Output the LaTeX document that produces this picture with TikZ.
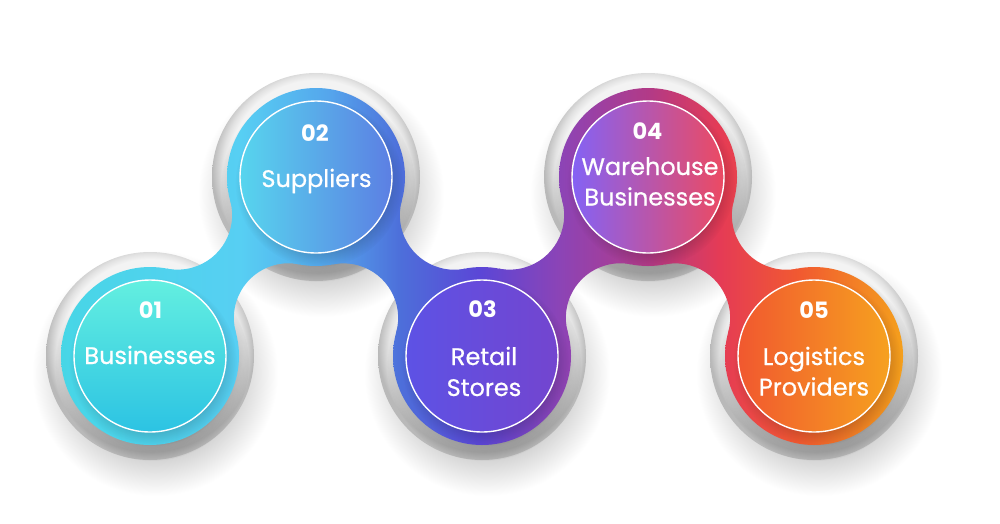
\documentclass[tikz,border=0pt]{standalone}
\usepackage{fontspec}
\setmainfont{Poppins}
\newfontfamily\labfont{Poppins}[FakeBold=0.6]
\usetikzlibrary{fadings,calc}

\definecolor{b0}{HTML}{47D6E6}
\definecolor{b1}{HTML}{57CFF3}
\definecolor{b2}{HTML}{55A5EC}
\definecolor{b3}{HTML}{4D6FDA}
\definecolor{b4}{HTML}{5B46D6}
\definecolor{b5}{HTML}{8C44B6}
\definecolor{b6}{HTML}{B33A86}
\definecolor{b7}{HTML}{E53B55}
\definecolor{b8}{HTML}{F15A30}
\definecolor{b9}{HTML}{F4A11C}
\definecolor{ringA}{HTML}{F3F3F3}
\definecolor{ringB}{HTML}{E2E2E2}
\definecolor{ringC}{HTML}{B9B9B9}
\definecolor{dropA}{HTML}{CCCCCC}

\pgfdeclarehorizontalshading{bandshade}{100bp}{color(0bp)=(b0); color(25.56bp)=(b0); color(35.56bp)=(b1); color(40.56bp)=(b2); color(44.44bp)=(b3); color(48.89bp)=(b4); color(53.33bp)=(b5); color(58.33bp)=(b6); color(62.22bp)=(b7); color(66.67bp)=(b8); color(72.5bp)=(b9); color(100bp)=(b9)}
\pgfdeclareradialshading{ringshade}{\pgfpoint{0bp}{4bp}}{color(0bp)=(ringA); color(21bp)=(ringA); color(22.5bp)=(ringB); color(25bp)=(ringC); color(50bp)=(ringC)}
\pgfdeclareradialshading{dropshade}{\pgfpointorigin}{color(0bp)=(dropA); color(16bp)=(dropA); color(25bp)=(white); color(50bp)=(white)}
\pgfdeclareradialshading{softfadeshade}{\pgfpointorigin}{color(0bp)=(white); color(17bp)=(white); color(25bp)=(black); color(50bp)=(black)}
\pgfdeclarefading{softfade}{\pgfuseshading{softfadeshade}}

\begin{document}
\begin{tikzpicture}[x=1pt,y=-1pt,
  lab/.style={text=white, font=\labfont\fontsize{24}{28}\selectfont, anchor=base, inner sep=0pt},
  num/.style={text=white, font=\fontsize{22.5}{26}\selectfont\bfseries, anchor=base, inner sep=0pt},
  bandfill/.style={shading=bandshade}]
\useasboundingbox (0,0) rectangle (1000,523);
\fill[white] (0,0) rectangle (1000,523);
\coordinate (c1) at (150,356);
\coordinate (c2) at (316,177);
\coordinate (c3) at (482,356);
\coordinate (c4) at (648,177);
\coordinate (c5) at (814,356);

% drop shadows of the grey rings
\foreach \c in {c1,c2,c3,c4,c5}
  \shade[shading=dropshade] ($(\c)+(5,17)$) circle[radius=123];
% grey rings
\foreach \c in {c1,c2,c3,c4,c5}
  \shade[shading=ringshade] (\c) circle[radius=104];
% shadow of the coloured discs on the rings
\foreach \c in {c1,c2,c3,c4,c5}
  \fill[black, opacity=0.5, path fading=softfade] ($(\c)+(2,8)$) circle[radius=97];

% coloured band: discs
\foreach \c in {c1,c2,c3,c4,c5}{
  \begin{scope}
    \clip (\c) circle[radius=89];
    \shade[bandfill] (50,60) rectangle (950,470);
  \end{scope}
}
% coloured band: necks
\begin{scope}
  \clip (150,356) -- (235.8,332.3) arc[start angle=164.6,end angle=281.1,radius=54.55]
    -- (316,177) -- (230.2,200.6) arc[start angle=-15.4,end angle=101.1,radius=54.55] -- cycle;
  \shade[bandfill] (50,60) rectangle (950,470);
\end{scope}
\begin{scope}
  \clip (316,177) -- (401.8,200.7) arc[start angle=-164.6,end angle=-281.1,radius=54.55]
    -- (482,356) -- (396.2,332.4) arc[start angle=15.4,end angle=-101.1,radius=54.55] -- cycle;
  \shade[bandfill] (50,60) rectangle (950,470);
\end{scope}
\begin{scope}
  \clip (482,356) -- (567.8,332.3) arc[start angle=164.6,end angle=281.1,radius=54.55]
    -- (648,177) -- (562.2,200.6) arc[start angle=-15.4,end angle=101.1,radius=54.55] -- cycle;
  \shade[bandfill] (50,60) rectangle (950,470);
\end{scope}
\begin{scope}
  \clip (648,177) -- (733.8,200.7) arc[start angle=-164.6,end angle=-281.1,radius=54.55]
    -- (814,356) -- (728.2,332.4) arc[start angle=15.4,end angle=-101.1,radius=54.55] -- cycle;
  \shade[bandfill] (50,60) rectangle (950,470);
\end{scope}

% shadow of inner circles on the band
\foreach \c in {c1,c2,c3,c4,c5}
  \fill[black, opacity=0.28, path fading=softfade] ($(\c)+(3,6)$) circle[radius=84];

% inner circles
\shade[top color={rgb,255:red,99;green,239;blue,224}, bottom color={rgb,255:red,44;green,195;blue,227}] (c1) circle[radius=76];
\shade[left color={rgb,255:red,87;green,213;blue,238}, right color={rgb,255:red,92;green,127;blue,227}] (c2) circle[radius=76];
\shade[left color={rgb,255:red,93;green,82;blue,229}, right color={rgb,255:red,115;green,69;blue,207}] (c3) circle[radius=76];
\shade[left color={rgb,255:red,132;green,98;blue,245}, right color={rgb,255:red,236;green,74;blue,98}] (c4) circle[radius=76];
\shade[left color={rgb,255:red,241;green,88;blue,47}, right color={rgb,255:red,246;green,161;blue,31}] (c5) circle[radius=76];
\foreach \c in {c1,c2,c3,c4,c5}
  \draw[white, line width=1.4pt] (\c) circle[radius=76];

% texts
\node[num] (n1) at (150.5,318) {01};
\node[lab] (t1) at (150,364) {Businesses};
\node[num] (n2) at (315,141) {02};
\node[lab] (t2) at (316.5,187) {Suppliers};
\node[num] (n3) at (482.5,317) {03};
\node[lab] (t3a) at (484,365) {Retail};
\node[lab] (t3b) at (484,396) {Stores};
\node[num] (n4) at (647.5,139) {04};
\node[lab] (t4a) at (650,175) {Warehouse};
\node[lab] (t4b) at (650,205.5) {Businesses};
\node[num] (n5) at (814,318) {05};
\node[lab] (t5a) at (814,365) {Logistics};
\node[lab] (t5b) at (814,395.5) {Providers};
\end{tikzpicture}
\end{document}
